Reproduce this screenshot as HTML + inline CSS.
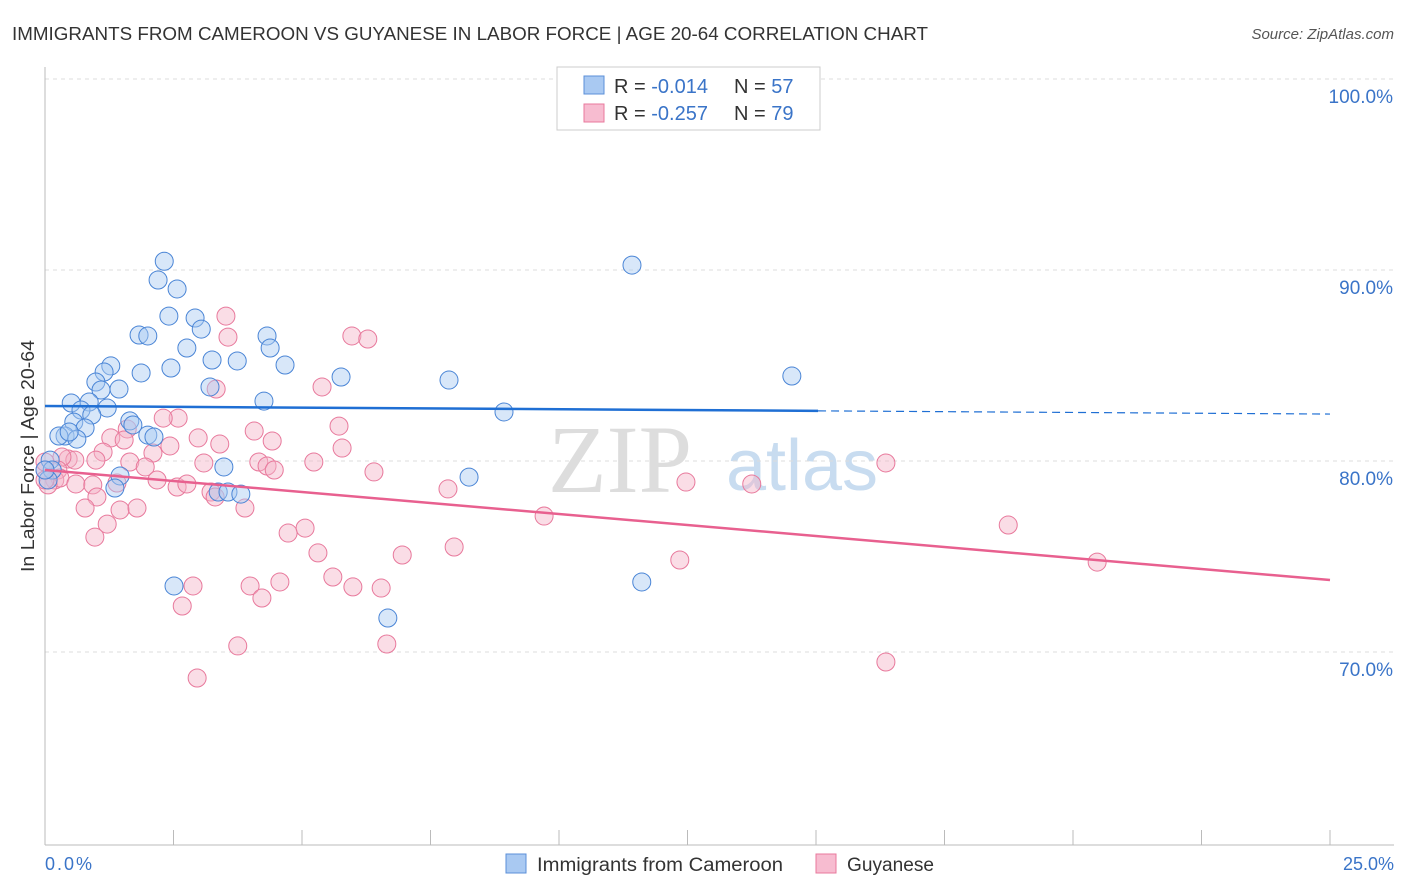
<!DOCTYPE html>
<html><head><meta charset="utf-8"><style>
body{margin:0;background:#fff;font-family:"Liberation Sans",sans-serif;}
svg{display:block}
</style></head><body>
<svg id="chart" width="1406" height="892" xmlns="http://www.w3.org/2000/svg">
<text x="12" y="40" font-size="18" fill="#333" textLength="916" lengthAdjust="spacingAndGlyphs">IMMIGRANTS FROM CAMEROON VS GUYANESE IN LABOR FORCE | AGE 20-64 CORRELATION CHART</text>
<text x="1394" y="39" font-size="15" fill="#555" font-style="italic" text-anchor="end">Source: ZipAtlas.com</text>
<text x="620" y="492" font-size="96" fill="#ddd" font-family="Liberation Serif,serif" text-anchor="middle">ZIP</text>
<text x="802" y="490" font-size="72" fill="#c8dcf0" text-anchor="middle">atlas</text>
<g id="grid"></g>
<g id="axes"></g>
<g id="points"></g>
<g id="trends"></g>
<text transform="translate(34,456) rotate(-90)" font-size="18" fill="#333" text-anchor="middle" textLength="232" lengthAdjust="spacingAndGlyphs">In Labor Force | Age 20-64</text>
<text x="45" y="870" font-size="18" fill="#3a74c8" textLength="47">0.0%</text>
<text x="1394" y="870" font-size="18" fill="#3a74c8" text-anchor="end">25.0%</text>
<g>
<rect x="557" y="67" width="263" height="63" fill="#fff" stroke="#ccc"/>
<rect x="584" y="76" width="20" height="18" fill="#a9c9f2" stroke="#5b8fd8"/>
<rect x="584" y="104" width="20" height="18" fill="#f7bcd0" stroke="#e8799c"/>
<text x="614" y="93" font-size="20" fill="#333">R = <tspan fill="#3a74c8">-0.014</tspan></text>
<text x="734" y="93" font-size="20" fill="#333">N = <tspan fill="#3a74c8">57</tspan></text>
<text x="614" y="120" font-size="20" fill="#333">R = <tspan fill="#3a74c8">-0.257</tspan></text>
<text x="734" y="120" font-size="20" fill="#333">N = <tspan fill="#3a74c8">79</tspan></text>
</g>
<g>
<rect x="506" y="854" width="20" height="19" fill="#a9c9f2" stroke="#5b8fd8"/>
<text x="537" y="871" font-size="19" fill="#333" textLength="246" lengthAdjust="spacingAndGlyphs">Immigrants from Cameroon</text>
<rect x="816" y="854" width="20" height="19" fill="#f7bcd0" stroke="#e8799c"/>
<text x="847" y="871" font-size="19" fill="#333" textLength="87" lengthAdjust="spacingAndGlyphs">Guyanese</text>
</g>
</svg>
<script>
const yTicks=[100,90,80,70];
const yTickLabels=["100.0%","90.0%","80.0%","70.0%"];
const xTicks=[0,2.5,5,7.5,10,12.5,15,17.5,20,22.5,25];
const blueX=[2.32,2.20,2.57,2.41,2.92,3.04,1.83,2.00,4.32,2.76,4.38,3.25,3.74,4.67,1.28,1.87,2.45,1.15,0.99,1.44,1.09,3.21,5.76,7.86,11.42,14.53,4.26,0.51,0.86,0.70,1.21,0.91,8.93,0.56,1.65,1.71,0.78,0.39,0.27,2.00,2.12,0.62,0.47,3.48,1.46,8.25,1.36,3.37,3.56,3.81,0.10,0.14,0.06,2.51,6.67,11.61,0.0];
const blueY=[91.4,90.42,89.95,88.53,88.43,87.85,87.54,87.49,87.49,86.86,86.86,86.23,86.18,85.97,85.92,85.55,85.81,85.6,85.08,84.71,84.66,84.82,85.34,85.18,91.2,85.39,84.08,83.98,84.03,83.61,83.72,83.35,83.51,82.98,83.04,82.83,82.67,82.25,82.25,82.3,82.2,82.09,82.46,80.63,80.16,80.1,79.53,79.32,79.32,79.21,80.99,80.47,79.95,74.4,72.72,74.61,80.47];
const pinkX=[3.52,3.56,5.97,6.28,3.33,5.39,2.59,2.30,5.72,4.07,1.60,1.28,1.54,2.98,3.40,4.42,5.78,2.43,2.10,1.13,0.45,0.58,0.33,0.99,1.65,1.95,3.09,4.16,4.32,5.23,4.46,6.40,16.36,0.25,0.19,0.29,0.60,0.93,1.40,2.18,2.57,3.23,3.31,2.76,1.01,0.78,1.46,1.79,3.89,1.21,7.84,12.47,13.75,0.97,5.06,4.73,9.71,18.74,5.31,6.95,7.96,12.35,20.47,5.60,2.88,3.99,4.57,5.99,6.54,2.67,4.22,3.75,6.65,2.96,16.36,0.06,0,0,0];
const pinkY=[88.53,87.43,87.49,87.33,84.71,84.82,83.19,83.19,82.77,82.51,82.62,82.15,82.04,82.15,81.83,81.99,81.62,81.73,81.36,81.41,81.05,80.99,81.15,80.99,80.89,80.63,80.84,80.89,80.68,80.89,80.47,80.37,80.84,80.47,79.95,80.05,79.74,79.69,79.79,79.95,79.58,79.32,79.06,79.74,79.06,78.48,78.38,78.48,78.48,77.64,79.48,79.84,79.74,76.96,77.43,77.17,78.06,77.59,76.13,76.02,76.44,75.76,75.65,74.87,74.4,74.4,74.61,74.35,74.29,73.35,73.77,71.26,71.36,69.58,70.42,79.69,80.47,79.95,80.89];
const blueTrend=[83.82,83.40];
const pinkTrend=[80.47,74.71];
const blueSolidEnd=15.04;

const NS="http://www.w3.org/2000/svg";
const xs=v=>45+v*51.4;
const ys=v=>97+(100-v)*19.1;
function mk(tag,attrs,parent){const e=document.createElementNS(NS,tag);for(const k in attrs)e.setAttribute(k,attrs[k]);parent.appendChild(e);return e;}
const grid=document.getElementById('grid'),axes=document.getElementById('axes'),pts=document.getElementById('points'),tr=document.getElementById('trends');
yTicks.forEach((t,i)=>{
  const l=mk('line',{x1:45,x2:1394,y1:ys(t)-18,y2:ys(t)-18,stroke:'#ddd','stroke-dasharray':'4,4'},grid);
  
  
  const tx=mk('text',{x:1393,y:ys(t)+6,'font-size':19,fill:'#3a74c8','text-anchor':'end'},grid);
  tx.textContent=yTickLabels[i];
  
  
});
const ax=mk('line',{x1:45,x2:45,y1:67,y2:845,stroke:'#bbb'},axes);


const bx=mk('line',{x1:45,x2:1394,y1:845,y2:845,stroke:'#bbb'},axes);


xTicks.forEach(t=>{
  const l=mk('line',{x1:xs(t),x2:xs(t),y1:830,y2:845,stroke:'#bbb'},axes);
  
  
});
function dots(X,Y,fill,stroke,name){
  X.forEach((x,i)=>{
    const c=mk('circle',{cx:xs(x),cy:ys(Y[i]),r:9,fill:fill,'fill-opacity':0.45,stroke:stroke,'stroke-width':1},pts);
    
    
  });
}
dots(pinkX,pinkY,'#f5b3c8','#e8799c','guyanese-point');
dots(blueX,blueY,'#a9c9f2','#4a85d6','cameroon-point');
const bAt=x=>blueTrend[0]+(blueTrend[1]-blueTrend[0])*x/25;
const b1=mk('line',{x1:xs(0),y1:ys(bAt(0)),x2:xs(blueSolidEnd),y2:ys(bAt(blueSolidEnd)),stroke:'#1f6fd4','stroke-width':2.5},tr);


const b2=mk('line',{x1:xs(blueSolidEnd),y1:ys(bAt(blueSolidEnd)),x2:xs(25),y2:ys(bAt(25)),stroke:'#1f6fd4','stroke-width':1.2,'stroke-dasharray':'8,5'},tr);


const p1=mk('line',{x1:xs(0),y1:ys(pinkTrend[0]),x2:xs(25),y2:ys(pinkTrend[1]),stroke:'#e8608f','stroke-width':2.5},tr);


</script>
</body></html>
